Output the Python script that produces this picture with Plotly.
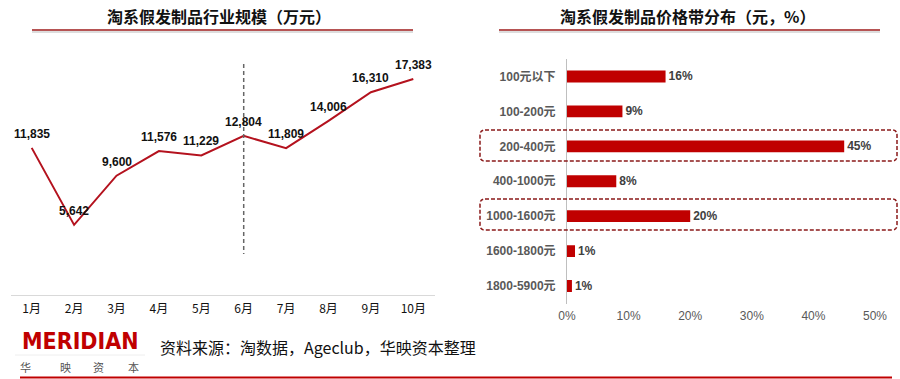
import plotly.graph_objects as go

# ---------------- data ----------------
months = ["1月", "2月", "3月", "4月", "5月", "6月", "7月", "8月", "9月", "10月"]
scale_values = [11835, 5642, 9600, 11576, 11229, 12804, 11809, 14006, 16310, 17383]

price_bands = ["100元以下", "100-200元", "200-400元", "400-1000元",
               "1000-1600元", "1600-1800元", "1800-5900元"]
band_share = [16, 9, 45, 8, 20, 1.3, 0.8]

left_title = "淘系假发制品行业规模（万元）"
right_title = "淘系假发制品价格带分布（元，%）"
source_text = "资料来源：淘数据，Ageclub，华映资本整理"

W, H = 900, 379
RED = "#C00000"
LINE_RED = "#B4121E"
FONT = "Liberation Sans, Arial, Noto Sans CJK SC, sans-serif"
CJK = "Noto Sans CJK SC, Liberation Sans, sans-serif"


def px(x):
    return x / W


def py(y):
    return 1 - y / H


fig = go.Figure()

fig.add_trace(go.Scatter(
    x=months, y=scale_values, mode="lines",
    line=dict(color=LINE_RED, width=2),
    xaxis="x", yaxis="y", hoverinfo="skip", showlegend=False,
))

fig.add_trace(go.Bar(
    x=band_share, y=price_bands, orientation="h",
    marker=dict(color=RED), width=0.34,
    texttemplate="%{x:.0f}%", textposition="outside", constraintext="none",
    textfont=dict(family=FONT, size=12, color="#404040", weight="bold"),
    cliponaxis=False,
    xaxis="x2", yaxis="y2", hoverinfo="skip", showlegend=False,
))


def ann(x, y, text, font, xanchor="center", yanchor="middle"):
    return dict(x=px(x), y=py(y), xref="paper", yref="paper", text=text,
                xanchor=xanchor, yanchor=yanchor, showarrow=False, font=font)


annotations = []
for m, v in zip(months, scale_values):
    annotations.append(dict(
        x=m, y=v, xref="x", yref="y", text=f"{v:,}", showarrow=False,
        xanchor="center", yanchor="middle",
        yshift=14, font=dict(family=FONT, size=12, color="#111111", weight="bold"),
    ))

annotations += [
    ann(219, 16, left_title, dict(family=CJK, size=16, color="#111", weight="bold")),
    ann(687, 16, right_title, dict(family=CJK, size=16, color="#111", weight="bold")),
    ann(158, 347, source_text, dict(family=CJK, size=16, color="#111"), xanchor="left"),
    ann(80, 341, "MERIDIAN",
        dict(family="DejaVu Sans Condensed, DejaVu Sans", size=23, color=RED, weight="bold")),
]
for ch, cx in zip(["华", "映", "资", "本"], [25, 65, 98, 133]):
    annotations.append(ann(cx, 367, ch, dict(family=CJK, size=11, color="#555")))

shapes = []
for x0, x1 in [(32, 413), (499, 880)]:
    shapes.append(dict(type="line", xref="paper", yref="paper", x0=px(x0), x1=px(x1),
                       y0=py(32), y1=py(32), line=dict(color="#DDDDDD", width=2)))
    shapes.append(dict(type="line", xref="paper", yref="paper", x0=px(x0), x1=px(x1),
                       y0=py(30), y1=py(30), line=dict(color="#9E1B1B", width=1.5)))

shapes.append(dict(type="line", xref="x", yref="paper", x0="6月", x1="6月",
                   y0=py(64), y1=py(254), line=dict(color="#666666", width=1.5, dash="4px,3px")))


def rounded(x0, y0, x1, y1, r=5):
    X = lambda v: px(v)
    Y = lambda v: py(v)
    return (f"M {X(x0+r)},{Y(y0)} L {X(x1-r)},{Y(y0)} Q {X(x1)},{Y(y0)} {X(x1)},{Y(y0+r)} "
            f"L {X(x1)},{Y(y1-r)} Q {X(x1)},{Y(y1)} {X(x1-r)},{Y(y1)} "
            f"L {X(x0+r)},{Y(y1)} Q {X(x0)},{Y(y1)} {X(x0)},{Y(y1-r)} "
            f"L {X(x0)},{Y(y0+r)} Q {X(x0)},{Y(y0)} {X(x0+r)},{Y(y0)} Z")


for y0, y1 in [(130, 161), (199, 230)]:
    shapes.append(dict(type="path", xref="paper", yref="paper", path=rounded(480, y0, 897, y1),
                       line=dict(color="#8B1A1A", width=1.5, dash="4px,2px")))

shapes.append(dict(type="line", xref="paper", yref="paper", x0=px(15), x1=px(145),
                   y0=py(355), y1=py(355), line=dict(color="#EEEEEE", width=1)))
shapes.append(dict(type="line", xref="paper", yref="paper", x0=px(20), x1=px(892),
                   y0=py(377.5), y1=py(377.5), line=dict(color=RED, width=2)))

fig.update_layout(
    template="none",
    width=W, height=H, margin=dict(l=0, r=0, t=0, b=0, pad=0), autosize=False,
    paper_bgcolor="white", plot_bgcolor="white",
    font=dict(family=FONT),
    xaxis=dict(domain=[px(10.5), px(434.5)], type="category", range=[-0.5, 9.5],
               automargin=False,
               showgrid=False, zeroline=False, showline=True, linecolor="#D9D9D9",
               linewidth=1, ticks="", tickfont=dict(family=CJK, size=12, color="#111"),
               ticklabelstandoff=3, fixedrange=True),
    yaxis=dict(domain=[py(295), py(46.4)], range=[0, 20000], visible=False,
               automargin=False, showgrid=False, fixedrange=True),
    xaxis2=dict(domain=[px(567), px(875)], range=[0, 50], anchor="y2", automargin=False,
                ticksuffix="%", dtick=10, showgrid=False, zeroline=False, showline=False,
                ticks="", tickfont=dict(family=FONT, size=12, color="#595959"),
                ticklabelstandoff=3, fixedrange=True),
    yaxis2=dict(domain=[py(303.5), py(59)], anchor="x2", type="category", automargin=False,
                autorange="reversed", showgrid=False, zeroline=False,
                showline=True, linecolor="#BFBFBF", linewidth=1, ticks="",
                tickfont=dict(family=FONT, size=12, color="#595959", weight="bold"),
                ticklabelstandoff=8, fixedrange=True),
    annotations=annotations, shapes=shapes, bargap=0.5,
)

fig.write_html(
    "out.html",
    config={"displayModeBar": False, "staticPlot": True},
    post_script="document.body.style.margin='0';document.body.style.overflow='hidden';",
)
